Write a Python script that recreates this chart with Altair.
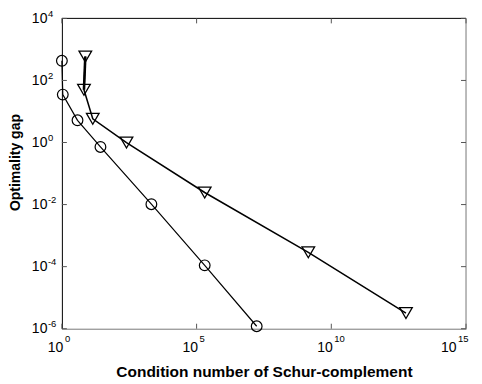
import altair as alt
import pandas as pd

# ---- data ----
circle_x = [1.0, 1.08, 3.8, 27, 2100, 2.0e5, 1.7e7]
circle_y = [430, 35, 5.2, 0.72, 0.0103, 1.1e-4, 1.2e-6]
tri_x = [7.4, 6.6, 14, 250, 2.0e5, 1.4e9, 5.9e12]
tri_y = [590, 50, 5.8, 1.0, 0.0245, 2.9e-4, 3.2e-6]

x_ticks = [1, 1e5, 1e10, 1e15]
x_exponents = ["0", "5", "10", "15"]
y_ticks = [1e-6, 1e-4, 1e-2, 1, 1e2, 1e4]
y_exponents = ["-6", "-4", "-2", "0", "2", "4"]
tick_base = "10"

x_title = "Condition number of Schur-complement"
y_title = "Optimality gap"

W, H = 405, 311
FONT = "Liberation Sans"
LAB = 14
EXP = 9.5

circ = pd.DataFrame({"x": circle_x, "y": circle_y, "i": list(range(len(circle_x)))})
tri = pd.DataFrame({"x": tri_x, "y": tri_y, "i": list(range(len(tri_x)))})
tri_first = tri.iloc[:2]

xscale = alt.Scale(type="log", domain=[1, 1e15], nice=False)
yscale = alt.Scale(type="log", domain=[1e-6, 1e4], nice=False)

xaxis = alt.Axis(
    values=x_ticks, labelExpr=f"'{tick_base}'",
    ticks=False, tickSize=0, grid=False, domainColor="#777777", domainWidth=1,
    labelFont=FONT, labelFontSize=LAB, labelColor="black",
    labelPadding=23, labelBaseline="alphabetic", labelAlign="right",
    labelOffset={"condition": {"test": "datum.value > 1e14", "value": -10}, "value": 1},
    title=x_title, titleFont=FONT, titleFontSize=15.5, titleFontWeight="bold",
    titleColor="black", titleY=48, titleBaseline="alphabetic",
)
yaxis = alt.Axis(
    values=y_ticks, labelExpr=f"'{tick_base}'",
    ticks=False, tickSize=0, grid=False, domainColor="black", domainWidth=1,
    labelFont=FONT, labelFontSize=LAB, labelColor="black", labelPadding=15,
    labelBaseline="middle",
    title=y_title, titleFont=FONT, titleFontSize=14, titleFontWeight="bold",
    titleColor="black", titleX=-42, titleY=144, titleBaseline="alphabetic",
    titleAlign="center", titleAngle=270,
)


def X(field="x"):
    return alt.X(f"{field}:Q", scale=xscale, axis=xaxis, title=x_title)


def Y(field="y"):
    return alt.Y(f"{field}:Q", scale=yscale, axis=yaxis, title=y_title)


circ_line = alt.Chart(circ).mark_line(color="black", strokeWidth=1.2, clip=False).encode(
    x=X(), y=Y(), order="i:Q"
)
circ_pts = alt.Chart(circ).mark_point(
    shape="circle", filled=False, color="black", size=115, strokeWidth=1.2, opacity=1, clip=False
).encode(x=X(), y=Y())

tri_line = alt.Chart(tri).mark_line(color="black", strokeWidth=1.5, clip=False).encode(
    x=X(), y=Y(), order="i:Q"
)
tri_thick = alt.Chart(tri_first).mark_line(color="black", strokeWidth=2.6, clip=False).encode(
    x=X(), y=Y(), order="i:Q"
)
tri_pts = alt.Chart(tri).mark_point(
    shape="triangle-down", filled=False, color="black", size=160, strokeWidth=1.3, opacity=1, clip=False
).encode(x=X(), y=Y())

# frame (top, right) and inward ticks
xt = pd.DataFrame({"x": x_ticks, "e": x_exponents})
yt = pd.DataFrame({"y": y_ticks, "e": y_exponents})
TL = 5
top_line = alt.Chart(xt.iloc[:1]).mark_rule(color="black", strokeWidth=1).encode(
    x=alt.value(0), x2=alt.value(W), y=alt.value(0))
right_line = alt.Chart(xt.iloc[:1]).mark_rule(color="#777777", strokeWidth=1).encode(
    x=alt.value(W), y=alt.value(0), y2=alt.value(H))
xt_bot = alt.Chart(xt).mark_rule(color="#555555", strokeWidth=1).encode(
    x=X(), y=alt.value(H - TL), y2=alt.value(H))
xt_top = alt.Chart(xt).mark_rule(color="#555555", strokeWidth=1).encode(
    x=X(), y=alt.value(0), y2=alt.value(TL))
yt_left = alt.Chart(yt).mark_rule(color="#555555", strokeWidth=1).encode(
    y=Y(), x=alt.value(0), x2=alt.value(TL))
yt_right = alt.Chart(yt).mark_rule(color="#555555", strokeWidth=1).encode(
    y=Y(), x=alt.value(W - TL), x2=alt.value(W))

# superscript exponents of the tick labels
xexp_main = alt.Chart(xt).transform_filter("datum.x < 1e14").mark_text(
    font=FONT, fontSize=EXP, color="black", align="left", baseline="alphabetic", dx=3
).encode(x=X(), y=alt.value(H + 13), text="e:N")
xexp_last = alt.Chart(xt).transform_filter("datum.x > 1e14").mark_text(
    font=FONT, fontSize=EXP, color="black", align="left", baseline="alphabetic", dx=-8
).encode(x=X(), y=alt.value(H + 13), text="e:N")
yexp = alt.Chart(yt).mark_text(
    font=FONT, fontSize=EXP, color="black", align="left", baseline="alphabetic", dy=-1.5
).encode(y=Y(), x=alt.value(-14), text="e:N")

chart = alt.layer(
    circ_line, tri_line, tri_thick, circ_pts, tri_pts,
    top_line, right_line, xt_bot, xt_top, yt_left, yt_right,
    xexp_main, xexp_last, yexp,
).properties(
    width=W, height=H,
    autosize=alt.AutoSizeParams(type="none"),
    padding={"left": 54, "top": 10, "right": 8, "bottom": 50},
    background="white",
).configure_view(stroke=None)

chart.save("out.html", embed_options={"renderer": "svg", "actions": False})
